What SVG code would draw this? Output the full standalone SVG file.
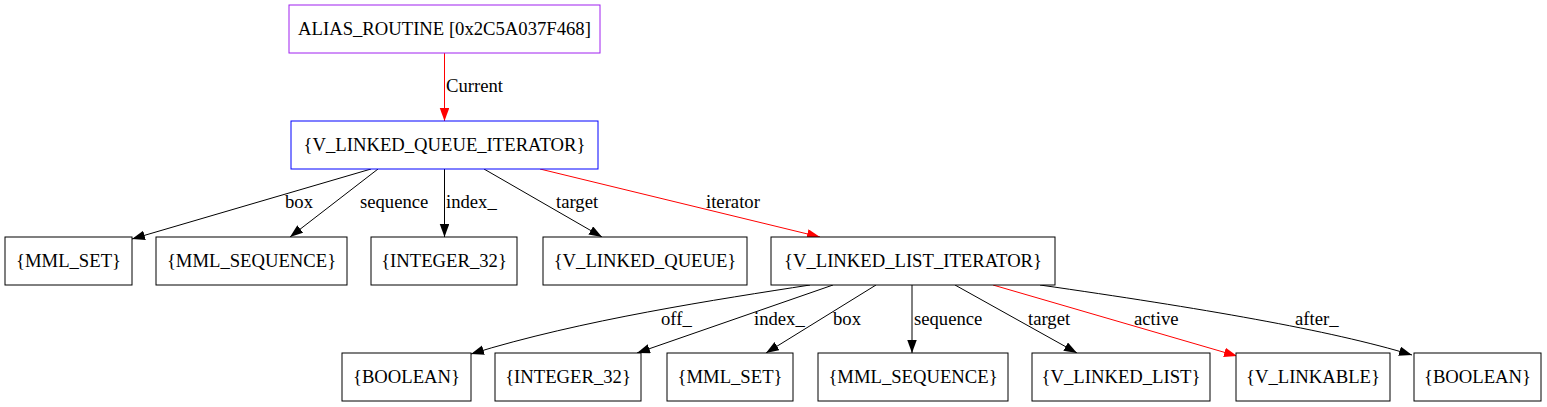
<svg xmlns="http://www.w3.org/2000/svg" width="1547" height="407" viewBox="0 0 1547 407">
<style>
text{font-family:"Liberation Serif","Times New Roman",serif;font-size:18.67px;fill:#000}
.n rect{fill:#fff;stroke:#000;stroke-width:1}
.n text{text-anchor:middle}
.e path{fill:none;stroke:#000;stroke-width:1}
.e path.r{stroke:#ff0000}
</style>
<defs>
<marker id="ab" markerUnits="userSpaceOnUse" markerWidth="14" markerHeight="10" refX="13" refY="4.75" orient="auto"><path d="M0,0 L13,4.75 L0,9.5 z" fill="#000"/></marker>
<marker id="ar" markerUnits="userSpaceOnUse" markerWidth="14" markerHeight="10" refX="13" refY="4.75" orient="auto"><path d="M0,0 L13,4.75 L0,9.5 z" fill="#ff0000"/></marker>
</defs>
<rect width="1547" height="407" fill="#fff"/>
<g id="edges" class="e">
<path class="r" d="M444.5,53 L444.5,121" marker-end="url(#ar)"/>
<text x="446" y="92">Current</text>
<path d="M371,169 L132,239" marker-end="url(#ab)"/>
<text x="285" y="208">box</text>
<path d="M378,169 L290,237" marker-end="url(#ab)"/>
<text x="360" y="208">sequence</text>
<path d="M444.5,169 L444.5,237" marker-end="url(#ab)"/>
<text x="446" y="208">index_</text>
<path d="M484,169 L602,237" marker-end="url(#ab)"/>
<text x="556" y="208">target</text>
<path class="r" d="M540,169 L820,237" marker-end="url(#ar)"/>
<text x="706" y="208">iterator</text>
<path d="M810,285 C720,299 580,320 471,354" marker-end="url(#ab)"/>
<text x="661" y="325">off_</text>
<path d="M833,285 L637,353" marker-end="url(#ab)"/>
<text x="754" y="325">index_</text>
<path d="M876,285 L766,353" marker-end="url(#ab)"/>
<text x="833" y="325">box</text>
<path d="M912,285 L912,353" marker-end="url(#ab)"/>
<text x="914" y="325">sequence</text>
<path d="M955,285 L1077,353" marker-end="url(#ab)"/>
<text x="1028" y="325">target</text>
<path class="r" d="M993,285 L1237,356" marker-end="url(#ar)"/>
<text x="1134" y="325">active</text>
<path d="M1040,285 C1200,308 1330,330 1412,355" marker-end="url(#ab)"/>
<text x="1295" y="325">after_</text>
</g>
<g id="n0" class="n"><rect x="289" y="5" width="311" height="48" style="stroke:#a020f0"/><text x="444.5" y="35">ALIAS_ROUTINE [0x2C5A037F468]</text></g>
<g id="n1" class="n"><rect x="291" y="121" width="307" height="48" style="stroke:#0000ff"/><text x="444.5" y="151">{V_LINKED_QUEUE_ITERATOR}</text></g>
<g id="n2" class="n"><rect x="5" y="237" width="127" height="48"/><text x="68.5" y="267">{MML_SET}</text></g>
<g id="n3" class="n"><rect x="156" y="237" width="191" height="48"/><text x="251.5" y="267">{MML_SEQUENCE}</text></g>
<g id="n4" class="n"><rect x="371" y="237" width="146" height="48"/><text x="444" y="267">{INTEGER_32}</text></g>
<g id="n5" class="n"><rect x="543" y="237" width="204" height="48"/><text x="645" y="267">{V_LINKED_QUEUE}</text></g>
<g id="n6" class="n"><rect x="771" y="237" width="284" height="48"/><text x="913" y="267">{V_LINKED_LIST_ITERATOR}</text></g>
<g id="n7" class="n"><rect x="342" y="353" width="129" height="48"/><text x="406.5" y="383">{BOOLEAN}</text></g>
<g id="n8" class="n"><rect x="495" y="353" width="146" height="48"/><text x="568" y="383">{INTEGER_32}</text></g>
<g id="n9" class="n"><rect x="667" y="353" width="126" height="48"/><text x="730" y="383">{MML_SET}</text></g>
<g id="n10" class="n"><rect x="818" y="353" width="190" height="48"/><text x="913" y="383">{MML_SEQUENCE}</text></g>
<g id="n11" class="n"><rect x="1032" y="353" width="178" height="48"/><text x="1121" y="383">{V_LINKED_LIST}</text></g>
<g id="n12" class="n"><rect x="1236" y="353" width="154" height="48"/><text x="1313" y="383">{V_LINKABLE}</text></g>
<g id="n13" class="n"><rect x="1414" y="353" width="127" height="48"/><text x="1477.5" y="383">{BOOLEAN}</text></g>
</svg>
